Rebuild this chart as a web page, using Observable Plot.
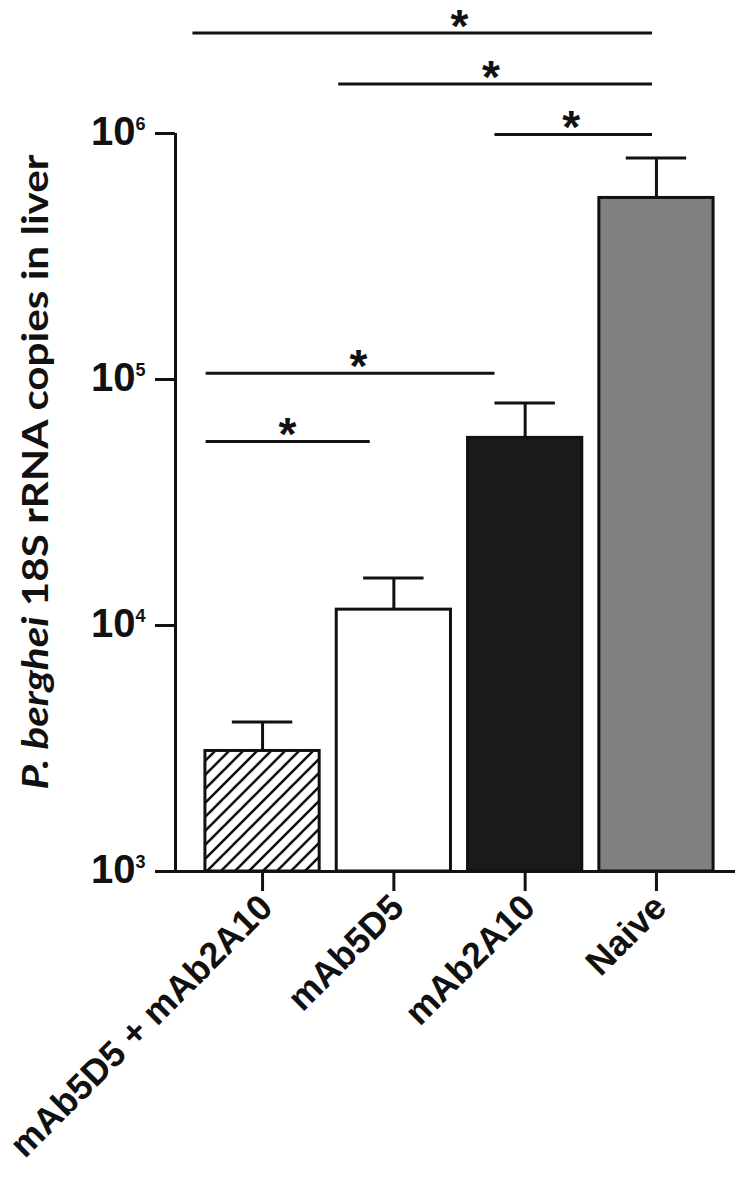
<!DOCTYPE html>
<html>
<head>
<meta charset="utf-8">
<script src="https://cdn.jsdelivr.net/npm/d3@7"></script>
<script src="https://cdn.jsdelivr.net/npm/@observablehq/plot@0.6"></script>
<style>
  html, body { margin: 0; padding: 0; background: #fff; }
  #chart svg { display: block; }
</style>
</head>
<body>
<div id="chart"></div>
<script>
// ---- data ----
const categories = ["mAb5D5 + mAb2A10", "mAb5D5", "mAb2A10", "Naive"];
const means = [3090, 11600, 57900, 547000];
const errorTops = [4050, 15600, 80200, 795000];
const yTicks = [1e3, 1e4, 1e5, 1e6];
const yTickBase = ["10", "10", "10", "10"];
const yTickExponent = ["3", "4", "5", "6"];
// significance brackets (positions in category-index units, levels in copies)
const bracketFrom = [-0.53, 0.58, 1.77, -0.43, -0.43];
const bracketTo = [2.97, 2.97, 2.97, 1.77, 0.82];
const bracketLevel = [2.56e6, 1.59e6, 9.9e5, 1.06e5, 5.6e4];
const starPos = [1.50, 1.74, 2.35, 0.73, 0.19];
const starText = ["*", "*", "*", "*", "*"];

// ---- styles ----
const barFill = {"mAb5D5 + mAb2A10": "url(#hatch)", "mAb5D5": "#ffffff", "mAb2A10": "#1a1a1a", "Naive": "#808080"};
const halfBar = 0.435;
const halfCap = 0.23;
const font = "'Liberation Sans', Arial, Helvetica, sans-serif";

const rows = categories.map((c, i) => ({cat: c, i, mean: means[i], err: errorTops[i]}));
const brackets = bracketFrom.map((f, k) => ({from: f, to: bracketTo[k], level: bracketLevel[k], star: starPos[k], text: starText[k]}));
const tickRows = yTicks.map((v, k) => ({v, base: yTickBase[k], exp: yTickExponent[k]}));

const defsMark = () => {
  const defs = d3.create("svg:defs");
  const p = defs.append("pattern").attr("id", "hatch").attr("patternUnits", "userSpaceOnUse")
    .attr("width", 14).attr("height", 14);
  p.append("rect").attr("width", 14).attr("height", 14).attr("fill", "#fff");
  p.append("path").attr("d", "M0,14 L14,0 M-3.5,3.5 L3.5,-3.5 M10.5,17.5 L17.5,10.5")
    .attr("stroke", "#111").attr("stroke-width", 2.6);
  return defs.node();
};

const chart = Plot.plot({
  width: 750,
  height: 1187,
  marginLeft: 175,
  marginRight: 15,
  marginTop: 133,
  marginBottom: 316,
  style: {fontFamily: font, fontWeight: "bold", background: "#fff", color: "#111", overflow: "visible"},
  x: {type: "linear", domain: [-0.663, 3.602]},
  y: {type: "log", domain: [1e3, 1e6]},
  marks: [
    defsMark,
    // error bars
    Plot.ruleX(rows, {x: "i", y1: "mean", y2: "err", stroke: "#111", strokeWidth: 3}),
    Plot.ruleY(rows, {y: "err", x1: d => d.i - halfCap, x2: d => d.i + halfCap, stroke: "#111", strokeWidth: 3}),
    // bars
    Plot.rectY(rows, {x1: d => d.i - halfBar, x2: d => d.i + halfBar, y1: 1e3, y2: "mean",
      fill: d => barFill[d.cat], stroke: "#111", strokeWidth: 3}),
    // axes
    Plot.axisY(yTicks, {tickSize: 20, strokeWidth: 3, stroke: "#111", tickFormat: () => "", label: null}),
    Plot.axisX(rows.map(d => d.i), {tickSize: 20, strokeWidth: 3, stroke: "#111", tickFormat: () => "", label: null}),
    Plot.ruleX([-0.663], {stroke: "#111", strokeWidth: 3}),
    Plot.ruleY([1e3], {stroke: "#111", strokeWidth: 3}),
    // y tick labels
    Plot.text(tickRows, {y: "v", text: "base", frameAnchor: "left", textAnchor: "end", lineAnchor: "middle",
      dx: -40, dy: -1, fontSize: 40, fontWeight: "bold", fill: "#111"}),
    Plot.text(tickRows, {y: "v", text: "exp", frameAnchor: "left", textAnchor: "start", lineAnchor: "middle",
      dx: -40, dy: -9, fontSize: 18, fontWeight: "bold", fill: "#111"}),
    // x labels
    Plot.text(rows, {x: "i", y: 1e3, text: "cat", rotate: -45, textAnchor: "end", lineAnchor: "bottom",
      dx: 12, dy: 38, fontSize: 36, fontWeight: "bold", fill: "#111"}),
    // significance brackets
    Plot.ruleY(brackets, {y: "level", x1: "from", x2: "to", stroke: "#111", strokeWidth: 3}),
    Plot.text(brackets, {x: "star", y: "level", text: "text", lineAnchor: "middle", dy: -6,
      fontSize: 46, fontWeight: "bold", fill: "#111"})
  ]
});

const svg = d3.select(chart);
const title = svg.append("text")
  .attr("transform", "translate(48,472) rotate(-90)")
  .attr("text-anchor", "middle")
  .attr("font-family", "Lato, 'Open Sans', sans-serif")
  .attr("font-weight", "bold")
  .attr("font-size", 37)
  .attr("fill", "#111")
  .attr("textLength", 635)
  .attr("lengthAdjust", "spacingAndGlyphs");
title.append("tspan").attr("font-style", "italic").text("P. berghei");
title.append("tspan").text(" 18S rRNA copies in liver");

document.getElementById("chart").appendChild(chart);
</script>
</body>
</html>
